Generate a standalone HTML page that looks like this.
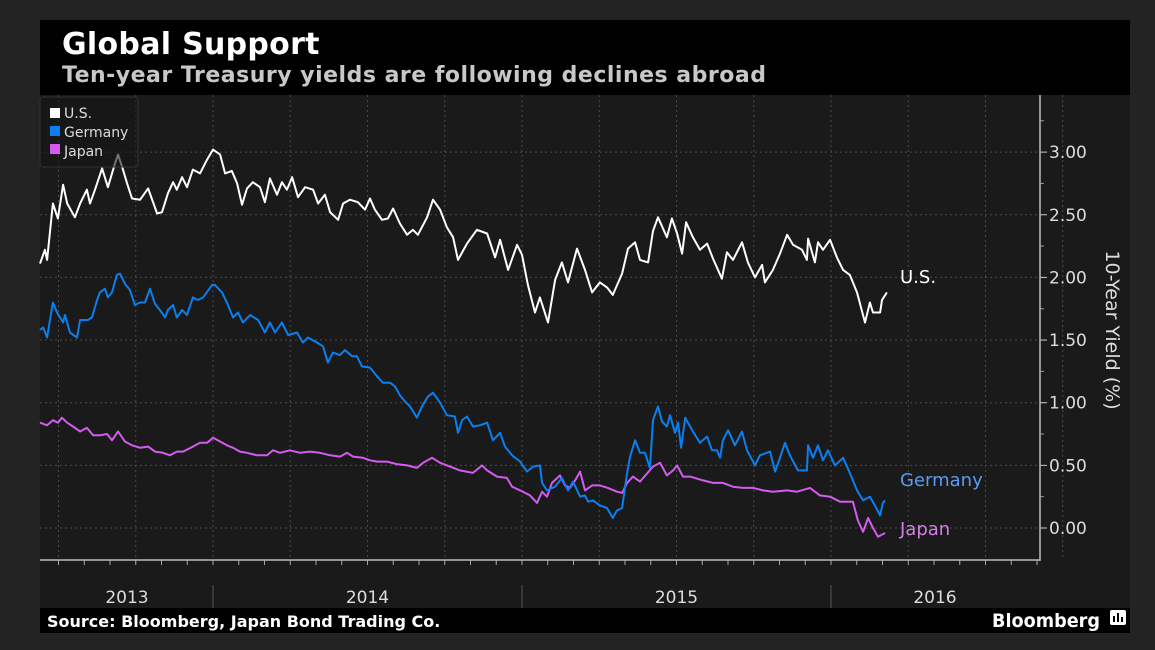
<!DOCTYPE html>
<html><head><meta charset="utf-8"><style>
html,body{margin:0;padding:0;background:#232323;width:1155px;height:650px;overflow:hidden}
svg{display:block}
text{font-family:"DejaVu Sans","Liberation Sans",sans-serif}
</style></head><body>
<svg id="chart" width="1155" height="650" viewBox="0 0 1155 650">
<rect x="0" y="0" width="1155" height="650" fill="#232323"/>
<rect x="40" y="20" width="1090" height="613" fill="#000"/>
<rect x="40" y="95" width="1090" height="513" fill="#1a1a1a"/>
<text x="62" y="54" fill="#fff" font-size="30" font-weight="bold" letter-spacing="0.3">Global Support</text>
<text x="62" y="82" fill="#c8c8c8" font-size="22" font-weight="bold" letter-spacing="0.5">Ten-year Treasury yields are following declines abroad</text>
<g id="grid"></g>
<g id="axes"></g>
<g id="series"></g>
<g>
<rect x="40" y="97" width="98" height="70" rx="3" fill="rgba(22,22,22,0.6)" stroke="#333"/>
<rect x="50" y="108" width="10" height="10" fill="#fff"/>
<text x="64" y="118" fill="#ddd" font-size="14">U.S.</text>
<rect x="50" y="126" width="10" height="10" fill="#0a7ff0"/>
<text x="64" y="137" fill="#ddd" font-size="14">Germany</text>
<rect x="50" y="144" width="10" height="10" fill="#d55af0"/>
<text x="64" y="156" fill="#ddd" font-size="14">Japan</text>
</g>
<text x="900" y="283" fill="#fff" font-size="18">U.S.</text>
<text x="900" y="486" fill="#5b9cf0" font-size="18">Germany</text>
<text x="900" y="535" fill="#d67fe8" font-size="18">Japan</text>
<text transform="translate(1106,330) rotate(90)" text-anchor="middle" fill="#ddd" font-size="19">10-Year Yield (%)</text>
<text x="47" y="627" fill="#fff" font-size="16" font-weight="bold">Source: Bloomberg, Japan Bond Trading Co.</text>
<text x="992" y="627" fill="#fff" font-size="19" font-weight="bold" textLength="108" lengthAdjust="spacingAndGlyphs">Bloomberg</text>
<g>
<rect x="1110" y="610" width="16" height="15" rx="2" fill="#fff"/>
<rect x="1113" y="616" width="2" height="6" fill="#000"/><rect x="1117" y="613" width="2" height="9" fill="#000"/><rect x="1121" y="617" width="2" height="5" fill="#000"/>
</g>
</svg>
<script>
const yTicks=[0,0.5,1,1.5,2,2.5,3];
const yearLabels=["2013","2014","2015","2016"];
const yearCenters=[2013.5,2014.5,2015.5,2016.5];
const yearBounds=[2014,2015,2016];
const usDates=[2013.440,2013.456,2013.463,2013.482,2013.498,2013.515,2013.528,2013.553,2013.570,2013.592,2013.602,2013.618,2013.641,2013.660,2013.683,2013.693,2013.706,2013.722,2013.738,2013.764,2013.790,2013.819,2013.835,2013.854,2013.871,2013.883,2013.900,2013.916,2013.935,2013.958,2013.981,2014.000,2014.023,2014.039,2014.061,2014.078,2014.094,2014.110,2014.129,2014.152,2014.168,2014.184,2014.207,2014.223,2014.239,2014.256,2014.275,2014.298,2014.324,2014.340,2014.362,2014.379,2014.405,2014.421,2014.443,2014.469,2014.492,2014.508,2014.524,2014.547,2014.566,2014.583,2014.605,2014.628,2014.647,2014.663,2014.693,2014.712,2014.735,2014.757,2014.777,2014.793,2014.822,2014.854,2014.887,2014.913,2014.929,2014.955,2014.984,2015.000,2015.019,2015.042,2015.058,2015.084,2015.107,2015.129,2015.149,2015.178,2015.204,2015.227,2015.252,2015.275,2015.294,2015.324,2015.343,2015.366,2015.382,2015.408,2015.424,2015.440,2015.469,2015.485,2015.502,2015.518,2015.531,2015.553,2015.576,2015.599,2015.618,2015.647,2015.663,2015.683,2015.712,2015.731,2015.754,2015.777,2015.786,2015.812,2015.835,2015.858,2015.877,2015.906,2015.922,2015.926,2015.948,2015.958,2015.974,2015.997,2016.019,2016.039,2016.061,2016.084,2016.110,2016.126,2016.136,2016.159,2016.165,2016.181];
const usYields=[2.11,2.22,2.14,2.59,2.47,2.74,2.59,2.48,2.59,2.70,2.59,2.70,2.87,2.72,2.91,2.98,2.88,2.75,2.63,2.62,2.71,2.51,2.52,2.67,2.76,2.70,2.80,2.72,2.86,2.83,2.94,3.02,2.98,2.83,2.85,2.75,2.58,2.71,2.76,2.72,2.60,2.79,2.66,2.76,2.70,2.80,2.64,2.72,2.70,2.59,2.66,2.52,2.46,2.59,2.62,2.60,2.54,2.63,2.54,2.46,2.47,2.55,2.43,2.34,2.38,2.34,2.48,2.62,2.54,2.40,2.32,2.14,2.27,2.38,2.35,2.16,2.30,2.06,2.26,2.18,1.94,1.72,1.84,1.64,1.98,2.12,1.96,2.23,2.06,1.88,1.96,1.92,1.86,2.03,2.23,2.28,2.14,2.12,2.37,2.48,2.32,2.47,2.35,2.19,2.44,2.32,2.22,2.27,2.15,1.99,2.20,2.14,2.28,2.12,2.00,2.10,1.96,2.06,2.19,2.34,2.26,2.22,2.14,2.31,2.12,2.28,2.22,2.30,2.16,2.06,2.02,1.88,1.64,1.80,1.72,1.72,1.82,1.88];
const deDates=[2013.440,2013.450,2013.463,2013.482,2013.495,2013.515,2013.521,2013.537,2013.560,2013.570,2013.595,2013.608,2013.625,2013.634,2013.650,2013.660,2013.673,2013.689,2013.699,2013.715,2013.731,2013.747,2013.764,2013.780,2013.796,2013.812,2013.828,2013.845,2013.854,2013.871,2013.883,2013.900,2013.916,2013.935,2013.951,2013.968,2013.997,2014.006,2014.029,2014.045,2014.065,2014.081,2014.097,2014.120,2014.146,2014.168,2014.184,2014.201,2014.223,2014.243,2014.272,2014.291,2014.307,2014.337,2014.356,2014.372,2014.388,2014.411,2014.427,2014.450,2014.466,2014.482,2014.508,2014.531,2014.550,2014.573,2014.589,2014.605,2014.621,2014.638,2014.660,2014.676,2014.696,2014.712,2014.735,2014.757,2014.783,2014.793,2014.806,2014.822,2014.841,2014.864,2014.887,2014.906,2014.929,2014.945,2014.968,2014.994,2015.016,2015.036,2015.058,2015.065,2015.081,2015.107,2015.129,2015.149,2015.165,2015.188,2015.204,2015.214,2015.230,2015.252,2015.275,2015.294,2015.307,2015.324,2015.340,2015.350,2015.366,2015.382,2015.398,2015.414,2015.424,2015.440,2015.453,2015.469,2015.479,2015.495,2015.505,2015.515,2015.528,2015.553,2015.576,2015.599,2015.615,2015.631,2015.641,2015.650,2015.667,2015.689,2015.712,2015.728,2015.754,2015.770,2015.803,2015.819,2015.835,2015.851,2015.867,2015.893,2015.922,2015.926,2015.942,2015.958,2015.974,2015.990,2016.013,2016.039,2016.061,2016.084,2016.104,2016.126,2016.142,2016.159,2016.168,2016.175];
const deYields=[1.58,1.60,1.52,1.80,1.72,1.64,1.70,1.56,1.52,1.66,1.66,1.68,1.82,1.88,1.91,1.84,1.88,2.02,2.03,1.95,1.90,1.78,1.80,1.80,1.91,1.79,1.74,1.68,1.74,1.78,1.68,1.74,1.70,1.84,1.82,1.84,1.94,1.94,1.88,1.80,1.68,1.72,1.64,1.70,1.66,1.56,1.64,1.56,1.64,1.54,1.56,1.48,1.52,1.48,1.45,1.32,1.40,1.38,1.42,1.37,1.37,1.29,1.28,1.21,1.16,1.16,1.13,1.06,1.01,0.97,0.88,0.97,1.05,1.08,1.00,0.90,0.89,0.76,0.86,0.89,0.81,0.82,0.84,0.70,0.76,0.65,0.58,0.53,0.45,0.49,0.50,0.36,0.30,0.33,0.40,0.30,0.37,0.25,0.26,0.21,0.22,0.18,0.16,0.08,0.14,0.16,0.44,0.57,0.70,0.60,0.60,0.48,0.86,0.97,0.85,0.81,0.90,0.76,0.84,0.64,0.88,0.77,0.68,0.73,0.62,0.62,0.56,0.70,0.78,0.66,0.77,0.62,0.50,0.58,0.61,0.45,0.56,0.68,0.58,0.46,0.46,0.66,0.56,0.66,0.54,0.62,0.50,0.56,0.44,0.30,0.22,0.25,0.18,0.10,0.20,0.22];
const jpDates=[2013.440,2013.463,2013.482,2013.498,2013.511,2013.528,2013.547,2013.570,2013.592,2013.612,2013.634,2013.657,2013.673,2013.693,2013.715,2013.738,2013.764,2013.790,2013.812,2013.838,2013.861,2013.883,2013.903,2013.935,2013.958,2013.981,2014.000,2014.023,2014.045,2014.065,2014.087,2014.110,2014.142,2014.175,2014.194,2014.217,2014.249,2014.282,2014.314,2014.346,2014.379,2014.411,2014.434,2014.453,2014.485,2014.508,2014.531,2014.563,2014.595,2014.628,2014.660,2014.680,2014.709,2014.735,2014.767,2014.799,2014.841,2014.871,2014.887,2014.919,2014.951,2014.968,2014.994,2015.026,2015.049,2015.065,2015.081,2015.097,2015.123,2015.139,2015.155,2015.172,2015.188,2015.204,2015.227,2015.252,2015.278,2015.307,2015.324,2015.340,2015.359,2015.382,2015.424,2015.447,2015.469,2015.489,2015.502,2015.521,2015.544,2015.586,2015.618,2015.650,2015.683,2015.715,2015.748,2015.780,2015.812,2015.858,2015.890,2015.932,2015.964,2015.997,2016.029,2016.052,2016.071,2016.087,2016.104,2016.120,2016.136,2016.152,2016.175];
const jpYields=[0.84,0.82,0.86,0.84,0.88,0.84,0.81,0.77,0.80,0.74,0.74,0.75,0.70,0.77,0.69,0.66,0.64,0.65,0.61,0.60,0.58,0.61,0.61,0.65,0.68,0.68,0.72,0.69,0.66,0.64,0.61,0.60,0.58,0.58,0.62,0.60,0.62,0.60,0.61,0.60,0.58,0.57,0.60,0.57,0.56,0.54,0.53,0.53,0.51,0.50,0.48,0.52,0.56,0.52,0.49,0.46,0.44,0.50,0.46,0.41,0.40,0.33,0.30,0.26,0.20,0.29,0.25,0.36,0.42,0.34,0.32,0.38,0.45,0.30,0.34,0.34,0.32,0.29,0.28,0.36,0.41,0.37,0.49,0.52,0.42,0.46,0.50,0.41,0.41,0.38,0.36,0.36,0.33,0.32,0.32,0.30,0.29,0.30,0.29,0.32,0.26,0.25,0.21,0.21,0.21,0.06,-0.03,0.08,0.00,-0.07,-0.04];

const NS='http://www.w3.org/2000/svg';
function xOf(t){return 213+(t-2014)*309;}
function yOf(v){return 528-v*125.3;}
function mk(tag,attrs,parent){const e=document.createElementNS(NS,tag);for(const k in attrs)e.setAttribute(k,attrs[k]);parent.appendChild(e);return e;}
const grid=document.getElementById('grid'),axes=document.getElementById('axes'),series=document.getElementById('series');
yTicks.forEach(v=>{
  const l=mk('line',{x1:40,x2:1040,y1:yOf(v),y2:yOf(v),stroke:'#4a4a4a','stroke-dasharray':'2,3'},grid);
  
  
  const tk=mk('line',{x1:1040,x2:1047,y1:yOf(v),y2:yOf(v),stroke:'#ccc'},axes);
  
  
  const t=mk('text',{x:1049,y:yOf(v)+6,fill:'#ddd','font-size':17},axes);
  t.textContent=v.toFixed(2);
  
  
});
for(let v=0.25;v<3.3;v+=0.5){
  const m=mk('line',{x1:1040,x2:1044,y1:yOf(v),y2:yOf(v),stroke:'#999'},axes);
  
  
}
for(let q=2013.5;q<=2016.76;q+=0.25){
  const x=xOf(q);
  const l=mk('line',{x1:x,x2:x,y1:95,y2:560,stroke:'#4a4a4a','stroke-dasharray':'2,3'},grid);
  
  
}
for(let m=0;m<60;m++){
  const t=2013+m/12;const x=xOf(t);
  if(x<41||x>1040)continue;
  const tk=mk('line',{x1:x,x2:x,y1:560,y2:565,stroke:'#aaa'},axes);
  
  
}
const ya=mk('line',{x1:1040,x2:1040,y1:95,y2:561,stroke:'#bbb','stroke-width':1.5},axes);


const xa=mk('line',{x1:40,x2:1040,y1:560,y2:560,stroke:'#bbb','stroke-width':1.5},axes);


yearBounds.forEach(t=>{
  const l=mk('line',{x1:xOf(t),x2:xOf(t),y1:585,y2:608,stroke:'#555'},axes);
  
  
});
yearLabels.forEach((s,i)=>{
  let x=xOf(yearCenters[i]);
  if(i===0)x=127;
  if(i===3)x=935;
  const t=mk('text',{x:x,y:603,fill:'#ddd','font-size':17,'text-anchor':'middle'},axes);
  t.textContent=s;
  
  
});
function drawLine(dates,vals,color,name){
  let d='';
  for(let i=0;i<dates.length;i++){d+=(i?'L':'M')+xOf(dates[i]).toFixed(1)+','+yOf(vals[i]).toFixed(1);}
  const p=mk('path',{d:d,fill:'none',stroke:color,'stroke-width':2,'stroke-linejoin':'round'},series);
  
  
}
drawLine(jpDates,jpYields,'#d55af0','japan-line');
drawLine(deDates,deYields,'#0a7ff0','germany-line');
drawLine(usDates,usYields,'#ffffff','us-line');
</script>
</body></html>
